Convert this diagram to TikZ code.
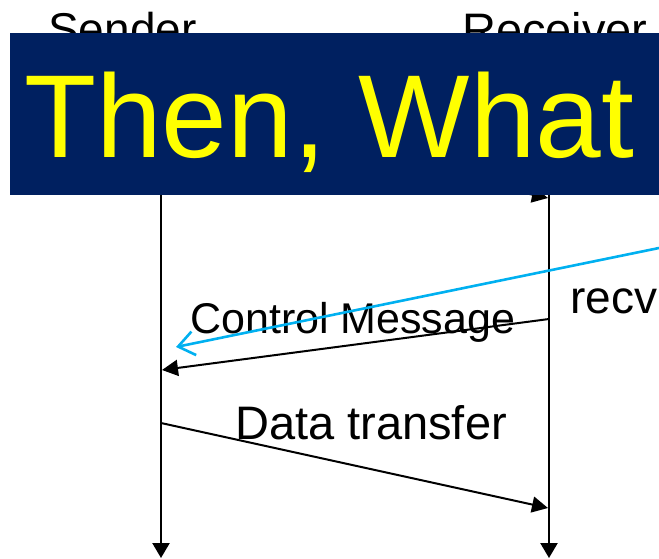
\documentclass[tikz,border=0pt]{standalone}
\usepackage{fontspec}
\setmainfont{Liberation Sans}
\usetikzlibrary{arrows.meta}
\definecolor{bannerblue}{RGB}{0,32,96}
\definecolor{titleyellow}{RGB}{255,255,0}
\definecolor{noteblue}{RGB}{0,176,240}

\begin{document}
\begin{tikzpicture}[x=1pt, y=-1pt,
            lifeline/.style = {line width=2.4pt, -{Triangle[length=15pt, width=17pt]}},
            msg/.style = {line width=2pt, -{Triangle[length=16pt, width=16pt]}},
            hint/.style = {line width=2.6pt, noteblue, -{Straight Barb[length=16pt, width=24pt]}},
            lbl/.style = {inner sep=0pt, anchor=base west, font=\fontsize{46}{50}\selectfont}
            ]
            \useasboundingbox (0,0) rectangle (659,558);
            \node[lbl] (sender) at (48,45) {Sender};
            \node[lbl, font=\fontsize{47}{50}\selectfont] (receiver) at (462,46) {Receiver};
            \node[lbl, font=\fontsize{43}{46}\selectfont] (ctrl) at (190,333) {Control Message};
            \node[lbl, font=\fontsize{47}{50}\selectfont] (data) at (235,439) {Data transfer};
            \node[lbl] (recv) at (570,313) {recv};
            \coordinate (s0) at (161,60);
            \coordinate (s1) at (161,558);
            \coordinate (r0) at (549,60);
            \coordinate (r1) at (549,558);
            \coordinate (sa) at (161,114);
            \coordinate (ra) at (548,198);
            \coordinate (rc) at (549,319);
            \coordinate (sc) at (162,370);
            \coordinate (sd) at (161,423);
            \coordinate (rd) at (548,508);
            \coordinate (bx) at (659,248);
            \coordinate (bt) at (176,347);
            \draw[lifeline] (s0) -- (s1);
            \draw[lifeline] (r0) -- (r1);
            \draw[msg] (sa) -- (ra);
            \draw[msg] (rc) -- (sc);
            \draw[msg] (sd) -- (rd);
            \draw[hint] (bx) -- (bt);
            \fill[bannerblue] (10,33) rectangle (659,195);
            \node[lbl, titleyellow, font=\fontsize{118}{120}\selectfont] (title) at (24,157) {Then, What};
\end{tikzpicture}
\end{document}
